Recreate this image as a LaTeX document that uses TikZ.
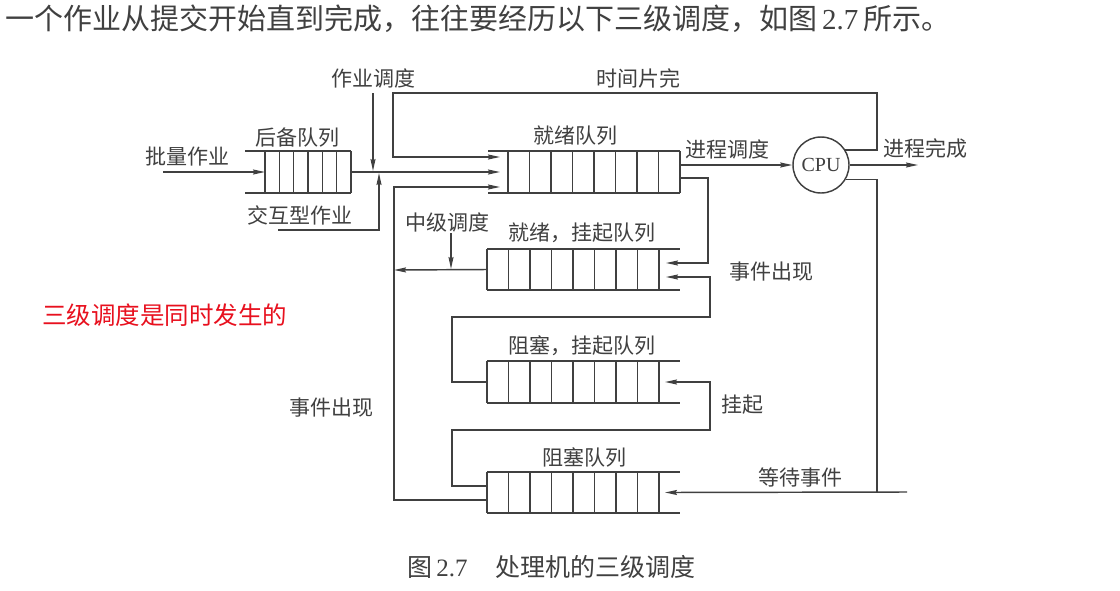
\documentclass[tikz,border=0pt]{standalone}
\usepackage{fontspec}
\setmainfont{Noto Sans CJK SC}
\newfontfamily\latinserif{Liberation Serif}
\usetikzlibrary{arrows.meta,calc}
\definecolor{ink}{HTML}{404040}
\definecolor{txt}{HTML}{404040}
\definecolor{redtxt}{HTML}{E8101E}
\newcommand\drawqueue[4]{%
  \draw[ln] (#1.north west) -- (#1.north east) (#1.south west) -- (#1.south east);
  \foreach \i in {0,...,#3}{\draw[ln] ($(#1.north west)+(#2+\i*#4,0)$) -- ($(#1.south west)+(#2+\i*#4,0)$);}
}
\begin{document}
\begin{tikzpicture}[x=1pt,y=-1pt,
  ln/.style={draw=ink,line width=1.45pt},
  arr/.style={ln,-{Stealth[length=12pt,width=5pt,inset=1.5pt]}},
  lbl/.style={text=txt,font=\fontsize{21}{25}\selectfont,inner sep=0pt},
  queue/.style={draw=none,inner sep=0pt,outer sep=0pt},
  cpustyle/.style={circle,draw=ink,line width=1.45pt,minimum size=56pt,inner sep=0pt,text=txt,font=\latinserif\fontsize{20}{24}\selectfont}]
\fill[white] (0,0) rectangle (1120,590);
\useasboundingbox (0,0) rectangle (1120,590);

% text outside the diagram
\node[anchor=west,inner sep=0pt,text=txt,font=\fontsize{29}{34}\selectfont] (intro) at (5,19) {一个作业从提交开始直到完成，往往要经历以下三级调度，如图{\latinserif\,2.7\,}所示。};
\node[anchor=west,inner sep=0pt,text=redtxt,font=\fontsize{24.5}{28}\selectfont] (note) at (42,315) {三级调度是同时发生的};
\node[anchor=west,inner sep=0pt,text=txt,font=\fontsize{25}{30}\selectfont] (caption) at (407,567) {图{\latinserif\,2.7}\hspace{1.1em}处理机的三级调度};

% queues
\node[queue,minimum width=106pt,minimum height=42pt] (backup) at (298,172) {};
\node[queue,minimum width=192pt,minimum height=42pt] (ready) at (584,172) {};
\node[queue,minimum width=193pt,minimum height=41pt] (readysus) at (583.5,269.5) {};
\node[queue,minimum width=193pt,minimum height=42pt] (blocksus) at (583.5,382) {};
\node[queue,minimum width=193pt,minimum height=41pt] (blocked) at (583.5,492.5) {};
\drawqueue{backup}{20}{6}{14.33}
\drawqueue{ready}{20}{8}{21.5}
\drawqueue{readysus}{0}{8}{21.5}
\drawqueue{blocksus}{0}{8}{21.5}
\drawqueue{blocked}{0}{8}{21.5}

\node[cpustyle] (cpu) at (821,165) {CPU};

% labels
\node[lbl] (lJob) at (373,78) {作业调度};
\node[lbl] (lSlice) at (638,78) {时间片完};
\node[lbl] (lBackup) at (297,138) {后备队列};
\node[lbl] (lBatch) at (187,157) {批量作业};
\node[lbl] (lInter) at (300,215) {交互型作业};
\node[lbl] (lReady) at (575,136) {就绪队列};
\node[lbl] (lProc) at (727,149) {进程调度};
\node[lbl] (lDone) at (925,148) {进程完成};
\node[lbl] (lMid) at (447,222) {中级调度};
\node[lbl] (lRS) at (582,233) {就绪，挂起队列};
\node[lbl] (lEvR) at (771,272) {事件出现};
\node[lbl] (lBS) at (582,346) {阻塞，挂起队列};
\node[lbl] (lSusp) at (742,405) {挂起};
\node[lbl] (lEvL) at (331,408) {事件出现};
\node[lbl] (lBlk) at (584,457) {阻塞队列};
\node[lbl] (lWait) at (800,477) {等待事件};

% coordinates
\coordinate (batchIn) at (163,172);
\coordinate (readyIn1) at (500,157);
\coordinate (readyIn2) at (500,172);
\coordinate (readyIn3) at (500,187);
\coordinate (jobTop) at (373,93);
\coordinate (jobTip) at (373,171);
\coordinate (interStart) at (278,230);
\coordinate (interTip) at (379,173);
\coordinate (tsA) at (877,93);
\coordinate (tsB) at (393,93);
\coordinate (doneTip) at (918,165);
\coordinate (rsA) at (708,263);
\coordinate (waitA) at (877,492);
\coordinate (waitB) at (907,492);
\coordinate (gA) at (452,430);
\coordinate (gB) at (710,382);
\coordinate (eA) at (452,317);
\coordinate (eB) at (710,277);
\coordinate (mA) at (394,270);
\coordinate (midTop) at (451,233);
\coordinate (midTip) at (451,269);
\coordinate (lA) at (394,187);

% connectors
\draw[arr] (batchIn) -- ($(backup.west)+(20,0)$);
\draw[arr] (backup.east) -- (readyIn2);
\draw[arr] (jobTop) -- (jobTip);
\draw[arr] (interStart) -| (interTip);
\draw[arr] (cpu.32) -| (tsA) -- (tsB) |- (readyIn1);
\draw[arr] ($(ready.east)+(0,-7)$) -- (cpu.west);
\draw[arr] (cpu.east) -- (doneTip);
\draw[arr] ($(ready.east)+(0,6)$) -| (rsA) -- ($(readysus.east)+(-14,-6.5)$);
\draw[ln] (cpu.-30) -| (waitA);
\draw[arr] (waitB) -- ($(blocked.east)+(-15,0)$);
\draw[arr] ($(blocked.west)+(0,-6.5)$) -| (gA) -| (gB) -- ($(blocksus.east)+(-15,0)$);
\draw[arr] (blocksus.west) -| (eA) -| (eB) -- ($(readysus.east)+(-14,7.5)$);
\draw[arr] (readysus.west) -- (mA);
\draw[arr] (midTop) -- (midTip);
\draw[arr] ($(blocked.west)+(0,7.5)$) -| (lA) -- (readyIn3);
\end{tikzpicture}
\end{document}
